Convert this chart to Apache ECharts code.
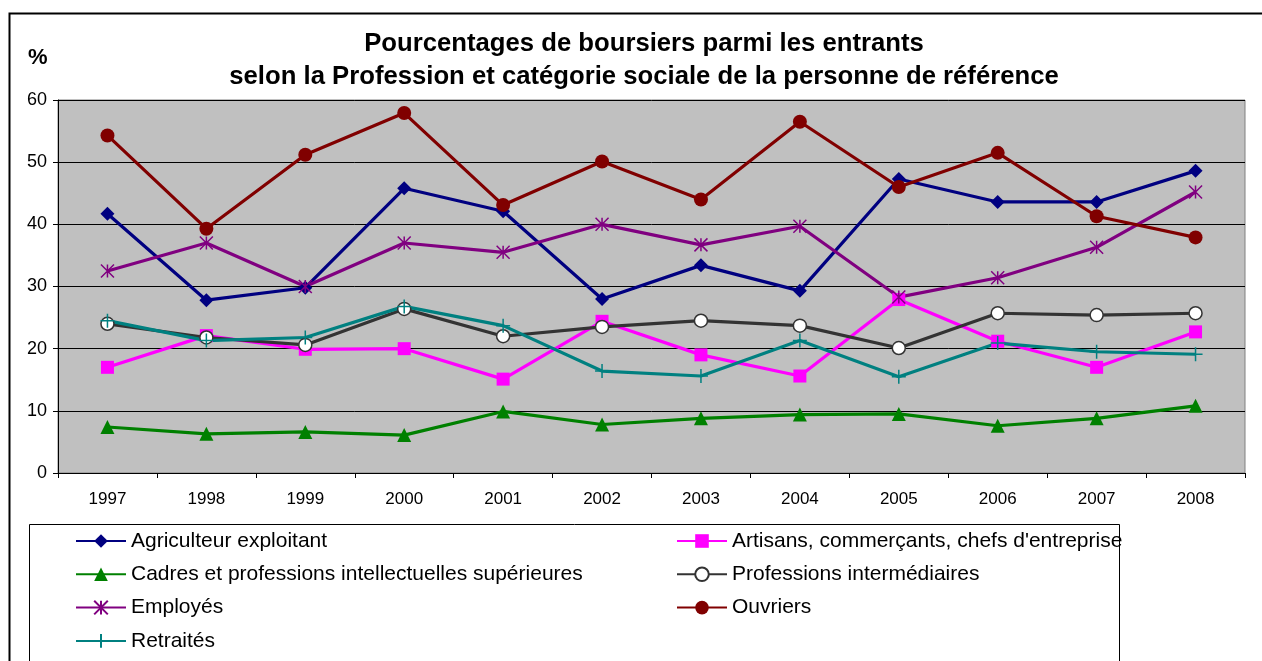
<!DOCTYPE html>
<html>
<head>
<meta charset="utf-8">
<script src="https://cdn.jsdelivr.net/npm/echarts@6/dist/echarts.min.js"></script>
<style>
  html, body { margin: 0; padding: 0; background: #fff; }
  #chart { width: 1262px; height: 661px; }
</style>
</head>
<body>
<div id="chart"></div>
<script>
// années et séries
var years = ['1997','1998','1999','2000','2001','2002','2003','2004','2005','2006','2007','2008'];
var agriculteurs = [41.7, 27.8, 29.8, 45.8, 42.1, 28.0, 33.4, 29.3, 47.3, 43.6, 43.6, 48.6];
var artisans     = [17.0, 22.1, 19.9, 20.0, 15.1, 24.4, 19.0, 15.6, 27.9, 21.2, 17.0, 22.7];
var cadres       = [7.4, 6.3, 6.6, 6.1, 9.9, 7.8, 8.8, 9.4, 9.5, 7.6, 8.8, 10.8];
var intermed     = [24.0, 21.8, 20.6, 26.4, 22.0, 23.5, 24.5, 23.7, 20.1, 25.7, 25.4, 25.7];
var employes     = [32.5, 37.0, 30.0, 37.0, 35.5, 40.0, 36.7, 39.7, 28.3, 31.4, 36.3, 45.2];
var ouvriers     = [54.3, 39.3, 51.2, 57.9, 43.1, 50.1, 44.0, 56.5, 46.0, 51.5, 41.3, 37.9];
var retraites    = [24.5, 21.3, 21.8, 26.8, 23.7, 16.4, 15.6, 21.3, 15.5, 20.9, 19.5, 19.1];
var yTicks = [0, 10, 20, 30, 40, 50, 60];

var FONT = "'Liberation Sans', Arial, sans-serif";
var STAR = 'path://M0 0 L10 10 M10 0 L0 10 M5 0 L5 10';
var PLUS = 'path://M5 0 L5 10 M0 5 L10 5';

var mkSerie = function (name, data, color, symbol, size, extra) {
  var s = {
    name: name,
    type: 'line',
    data: data,
    symbol: symbol,
    symbolSize: size,
    lineStyle: { color: color, width: 3.2 },
    itemStyle: { color: color, borderColor: color, borderWidth: 0 },
    emphasis: { disabled: true },
    animation: false
  };
  if (extra) s.itemStyle = extra;
  return s;
};

var legendText = { fontFamily: FONT, fontSize: 21, color: '#000', lineHeight: 22, padding: [0, 0, 0, 0] };

var chart = echarts.init(document.getElementById('chart'));

chart.setOption({
  backgroundColor: '#fff',
  textStyle: { fontFamily: FONT },
  title: {
    text: 'Pourcentages de boursiers parmi les entrants\nselon la Profession et catégorie sociale de la personne de référence',
    left: 639,
    top: 22,
    textAlign: 'center',
    textStyle: { fontFamily: FONT, fontSize: 25.7, fontWeight: 'bold', color: '#000', lineHeight: 33 }
  },
  graphic: [
    { type: 'rect', shape: { x: 9.5, y: 13.5, width: 1300, height: 700 },
      style: { fill: 'none', stroke: '#000', lineWidth: 2 }, z: -1 },
    { type: 'rect', shape: { x: 29.5, y: 524.5, width: 1090, height: 200 },
      style: { fill: 'none', stroke: '#000', lineWidth: 1 }, z: -1 },
    { type: 'text', left: 28, top: 47,
      style: { text: '%', font: 'bold 22px ' + FONT, fill: '#000' } }
  ],
  legend: [
    {
      orient: 'vertical', left: 70, top: 525,
      itemWidth: 50, itemHeight: 17, itemGap: 11.3,
      textStyle: legendText,
      data: ['Agriculteur exploitant', 'Cadres et professions intellectuelles supérieures', 'Employés', 'Retraités']
    },
    {
      orient: 'vertical', left: 671, top: 525,
      itemWidth: 50, itemHeight: 17, itemGap: 11.3,
      textStyle: legendText,
      data: ['Artisans, commerçants, chefs d\'entreprise', 'Professions intermédiaires', 'Ouvriers']
    }
  ],
  grid: {
    left: 58, right: 17, top: 100, bottom: 188,
    show: true, backgroundColor: '#C0C0C0', borderColor: '#808080', borderWidth: 1
  },
  xAxis: {
    type: 'category',
    data: years,
    boundaryGap: true,
    axisLine: { lineStyle: { color: '#000', width: 1 } },
    axisTick: { show: true, length: 5, lineStyle: { color: '#000' } },
    axisLabel: { fontFamily: FONT, fontSize: 17, color: '#000', margin: 18 },
    splitLine: { show: false }
  },
  yAxis: {
    type: 'value',
    min: yTicks[0], max: yTicks[yTicks.length - 1], interval: 10,
    axisLine: { show: true, lineStyle: { color: '#000', width: 1 } },
    axisTick: { show: true, length: 5, lineStyle: { color: '#000' } },
    axisLabel: { fontFamily: FONT, fontSize: 18, color: '#000', margin: 11 },
    splitLine: { show: true, lineStyle: { color: '#000', width: 1 } }
  },
  series: [
    mkSerie('Agriculteur exploitant', agriculteurs, '#000080', 'diamond', 14),
    mkSerie('Artisans, commerçants, chefs d\'entreprise', artisans, '#FF00FF', 'rect', 13),
    mkSerie('Cadres et professions intellectuelles supérieures', cadres, '#008000', 'triangle', 14),
    mkSerie('Professions intermédiaires', intermed, '#333333', 'circle', 13,
      { color: '#fff', borderColor: '#333333', borderWidth: 1.5 }),
    mkSerie('Employés', employes, '#800080', STAR, 13,
      { color: '#800080', borderColor: '#800080', borderWidth: 1.5 }),
    mkSerie('Ouvriers', ouvriers, '#800000', 'circle', 14),
    mkSerie('Retraités', retraites, '#008080', PLUS, 14,
      { color: '#008080', borderColor: '#008080', borderWidth: 1.5 })
  ]
});
</script>
</body>
</html>
